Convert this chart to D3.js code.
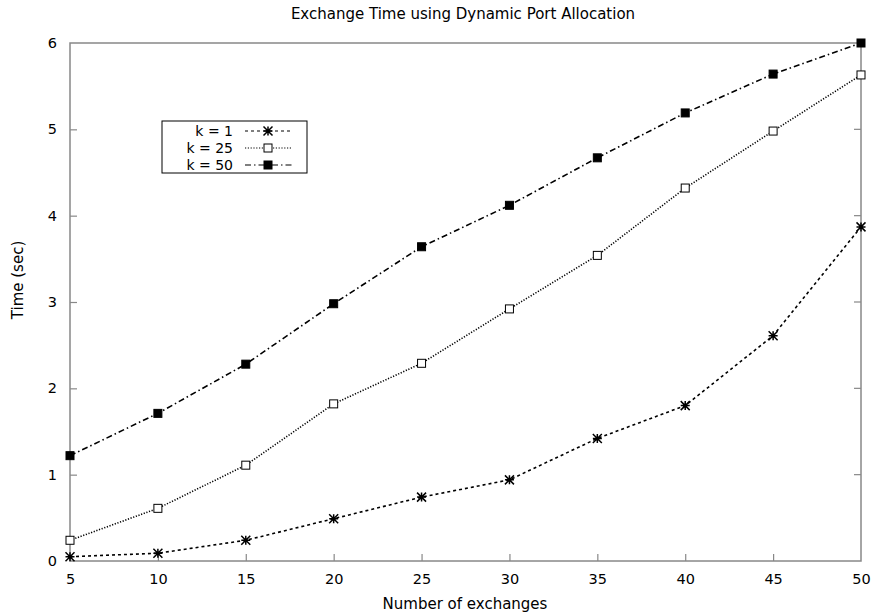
<!DOCTYPE html>
<html>
<head>
<meta charset="utf-8">
<script src="https://cdn.jsdelivr.net/npm/d3@7"></script>
<style>
  body { margin: 0; background: #fff; }
  text { font-family: "DejaVu Sans", sans-serif; fill: #000; }
</style>
</head>
<body>
<svg id="chart"></svg>
<script>
/* ------------ DATA --------------------------------------------------- */
const exchanges = [5, 10, 15, 20, 25, 30, 35, 40, 45, 50];
const k1  = [0.05, 0.09, 0.24, 0.49, 0.74, 0.94, 1.42, 1.80, 2.61, 3.87];
const k25 = [0.24, 0.61, 1.11, 1.82, 2.29, 2.92, 3.54, 4.32, 4.98, 5.63];
const k50 = [1.22, 1.71, 2.28, 2.98, 3.64, 4.12, 4.67, 5.19, 5.64, 6.00];
const xTicks = [5, 10, 15, 20, 25, 30, 35, 40, 45, 50];
const yTicks = [0, 1, 2, 3, 4, 5, 6];

const series = [
  { label: 'k = 1',  values: k1,  dash: '3,3',       marker: 'star' },
  { label: 'k = 25', values: k25, dash: '1.2,1.6',   marker: 'open' },
  { label: 'k = 50', values: k50, dash: '6,3,1.5,3', marker: 'filled' }
];

/* ------------ SVG ---------------------------------------------------- */
const W = 877, H = 615;
const m = { left: 70, right: 16, top: 43, bottom: 54 };
const FONT = '"DejaVu Sans", sans-serif';

const svg = d3.select('#chart').attr('width', W).attr('height', H);

const x = d3.scaleLinear().domain([5, 50]).range([m.left, W - m.right]);
const y = d3.scaleLinear().domain([0, 6]).range([H - m.bottom, m.top]);

const AX = '#888';

// frame
svg.append('rect')
  .attr('x', x(5)).attr('y', y(6))
  .attr('width', x(50) - x(5)).attr('height', y(0) - y(6))
  .attr('fill', 'none').attr('stroke', AX).attr('stroke-width', 1.5);

// x ticks
const xAxis = svg.append('g').attr('transform', `translate(0,${y(0)})`)
  .call(d3.axisBottom(x).tickValues(xTicks).tickSize(-7).tickPadding(13).tickFormat(d3.format('d')));
xAxis.select('.domain').remove();
xAxis.selectAll('.tick line').attr('stroke', AX).attr('stroke-width', 1.2)
  .filter(d => d === 5 || d === 50).remove();
xAxis.selectAll('.tick text').attr('font-size', 14.5).style('font-family', FONT);

// y ticks
const yAxis = svg.append('g').attr('transform', `translate(${x(5)},0)`)
  .call(d3.axisLeft(y).tickValues(yTicks).tickSize(-7).tickPadding(13).tickFormat(d3.format('d')));
yAxis.select('.domain').remove();
yAxis.selectAll('.tick line').attr('stroke', AX).attr('stroke-width', 1.2)
  .filter(d => d === 0 || d === 6).remove();
yAxis.selectAll('.tick text').attr('font-size', 14.5).style('font-family', FONT);

// right ticks
svg.append('g').selectAll('line').data(yTicks.slice(1, -1)).join('line')
  .attr('x1', x(50)).attr('x2', x(50) - 7)
  .attr('y1', d => y(d)).attr('y2', d => y(d))
  .attr('stroke', AX).attr('stroke-width', 1.2);

/* ------------ TITLES ------------------------------------------------- */
svg.append('text').attr('x', 463).attr('y', 19).attr('text-anchor', 'middle')
  .attr('font-size', 15).text('Exchange Time using Dynamic Port Allocation');
svg.append('text').attr('x', 465).attr('y', 609).attr('text-anchor', 'middle')
  .attr('font-size', 15).text('Number of exchanges');
svg.append('text').attr('transform', 'translate(23,280) rotate(-90)').attr('text-anchor', 'middle')
  .attr('font-size', 15).text('Time (sec)');

/* ------------ MARKERS ------------------------------------------------ */
function drawMarker(g, type, cx, cy) {
  if (type === 'star') {
    const r = 4.5;
    g.append('path')
      .attr('d', `M${cx - r},${cy - r}L${cx + r},${cy + r}M${cx - r},${cy + r}L${cx + r},${cy - r}` +
                 `M${cx - r},${cy}L${cx + r},${cy}M${cx},${cy - r}L${cx},${cy + r}`)
      .attr('stroke', '#000').attr('stroke-width', 1.5).attr('fill', 'none');
  } else {
    const s = 8;
    g.append('rect')
      .attr('x', cx - s / 2).attr('y', cy - s / 2).attr('width', s).attr('height', s)
      .attr('fill', type === 'filled' ? '#000' : '#fff')
      .attr('stroke', '#000').attr('stroke-width', 1);
  }
}

/* ------------ LINES -------------------------------------------------- */
const line = d3.line().x((d, i) => x(exchanges[i])).y(d => y(d));

series.forEach(s => {
  const g = svg.append('g');
  g.append('path').datum(s.values).attr('d', line)
    .attr('fill', 'none').attr('stroke', '#000').attr('stroke-width', 1.6)
    .attr('stroke-dasharray', s.dash);
  s.values.forEach((v, i) => drawMarker(g, s.marker, x(exchanges[i]), y(v)));
});

/* ------------ LEGEND ------------------------------------------------- */
const leg = svg.append('g');
leg.append('rect').attr('x', 162).attr('y', 121).attr('width', 145).attr('height', 52)
  .attr('fill', '#fff').attr('stroke', '#000').attr('stroke-width', 1);
series.forEach((s, i) => {
  const ly = 131 + i * 17;
  leg.append('text').attr('x', 233).attr('y', ly + 5).attr('text-anchor', 'end')
    .attr('font-size', 14).text(s.label);
  leg.append('line').attr('x1', 245).attr('x2', 292).attr('y1', ly).attr('y2', ly)
    .attr('stroke', '#000').attr('stroke-width', 1.2).attr('stroke-dasharray', s.dash);
  drawMarker(leg, s.marker, 268, ly);
});
</script>
</body>
</html>
